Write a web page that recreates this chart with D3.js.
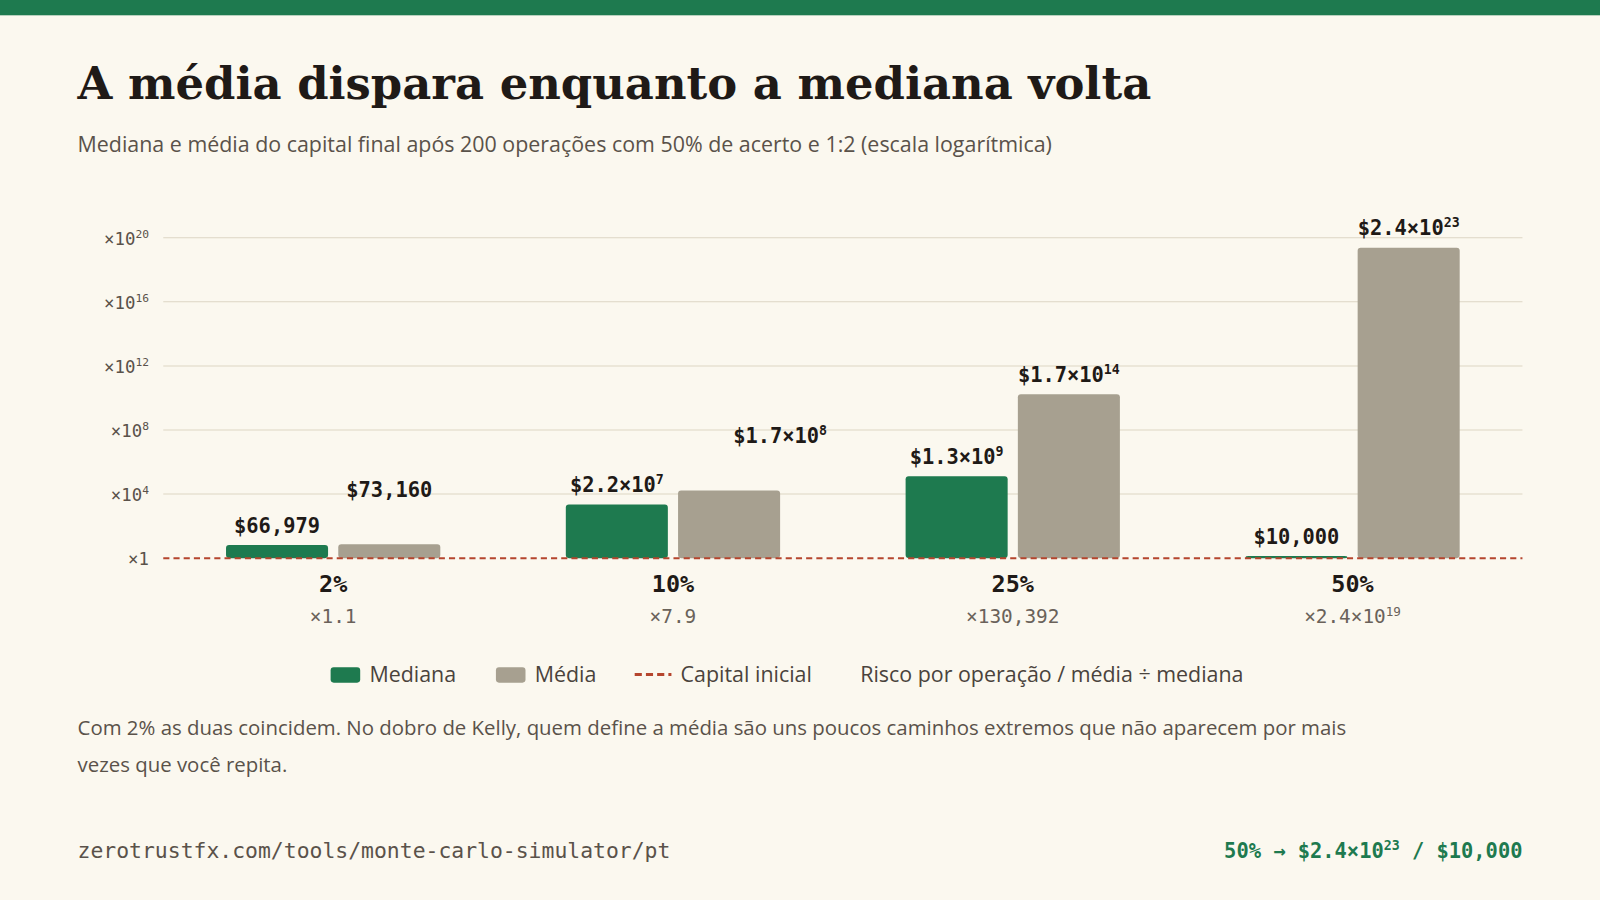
<!DOCTYPE html>
<html lang="en">
<head>
<meta charset="UTF-8">
<script src="https://d3js.org/d3.v7.min.js"></script>
<style>
  body { margin: 0; background: #fbf8ef; }
  svg { display: block; }
</style>
</head>
<body>
<svg width="1600" height="900" viewBox="0 0 1568 882"></svg>
<script>
  // data
  const risks = ["2%", "10%", "25%", "50%"];
  const medianValues = [66979, 2.2e7, 1.3e9, 10000];
  const meanValues = [73160, 1.7e8, 1.7e14, 2.4e23];
  const medianLabels = ["$66,979", "$2.2×10^7", "$1.3×10^9", "$10,000"];
  const meanLabels = ["$73,160", "$1.7×10^8", "$1.7×10^14", "$2.4×10^23"];
  const ratioLabels = ["×1.1", "×7.9", "×130,392", "×2.4×10^19"];
  const yTicks = [1, 1e4, 1e8, 1e12, 1e16, 1e20];
  const yTickLabels = ["×1", "×10^4", "×10^8", "×10^12", "×10^16", "×10^20"];
  const initialCapital = 10000;

  const green = "#1e7a4f", grey = "#a7a090", red = "#b5452e";
  const sans = "'Open Sans', 'Noto Sans', sans-serif";
  const mono = "'DejaVu Sans Mono', monospace";
  const svg = d3.select("svg");

  svg.append("rect").attr("width", 1568).attr("height", 882).attr("fill", "#fbf8ef");
  svg.append("rect").attr("width", 1568).attr("height", 15).attr("fill", green);

  svg.append("text").attr("x", 76).attr("y", 97)
    .attr("font-family", "'DejaVu Serif', serif").attr("font-weight", "bold")
    .attr("font-size", 44).attr("fill", "#1f1a17")
    .text("A média dispara enquanto a mediana volta");
  svg.append("text").attr("x", 76).attr("y", 149)
    .attr("font-family", sans).attr("font-size", 21).attr("fill", "#5a524a")
    .text("Mediana e média do capital final após 200 operações com 50% de acerto e 1:2 (escala logarítmica)");

  // text with superscript "a^b"
  function supText(sel, str, baseSize) {
    const parts = str.split("^");
    sel.text(parts[0]);
    if (parts[1]) {
      sel.append("tspan").attr("dy", -baseSize * 0.4).attr("font-size", baseSize * 0.65).text(parts[1]);
    }
    return sel;
  }

  const x = d3.scaleBand().domain(risks).range([160, 1492]).paddingInner(0).paddingOuter(0);
  const y = d3.scaleLog().domain([1, 1e20]).range([547, 233]);
  const barW = 100, gap = 10;

  const grid = svg.append("g");
  yTicks.forEach((t, i) => {
    if (i > 0) grid.append("line").attr("x1", 160).attr("x2", 1492)
      .attr("y1", y(t)).attr("y2", y(t)).attr("stroke", "#ddd6c4").attr("stroke-width", 1);
    supText(grid.append("text").attr("x", 146).attr("y", y(t) + 7).attr("text-anchor", "end")
      .attr("font-family", mono).attr("font-size", 17).attr("fill", "#5a524a"), yTickLabels[i], 17);
  });

  risks.forEach((r, i) => {
    const cx = x(r) + x.bandwidth() / 2;
    const mr = medianValues[i] / initialCapital, ar = meanValues[i] / initialCapital;
    const mTop = Math.min(y(mr), 545), aTop = Math.min(y(ar), 545);
    svg.append("rect").attr("x", cx - gap / 2 - barW).attr("y", mTop).attr("width", barW)
      .attr("height", 547 - mTop).attr("rx", 3).attr("fill", green);
    svg.append("rect").attr("x", cx + gap / 2).attr("y", aTop).attr("width", barW)
      .attr("height", 547 - aTop).attr("rx", 3).attr("fill", grey);
    supText(svg.append("text").attr("x", cx - gap / 2 - barW / 2).attr("y", mTop - 12)
      .attr("text-anchor", "middle").attr("font-family", mono).attr("font-weight", "bold")
      .attr("font-size", 20).attr("fill", "#1f1a17"), medianLabels[i], 20);
    const aLabelY = i === 0 ? 487 : i === 1 ? 434 : aTop - 12;
    const aLabelX = i === 1 ? cx + gap / 2 + barW / 2 + 50 : cx + gap / 2 + barW / 2;
    supText(svg.append("text").attr("x", aLabelX).attr("y", aLabelY)
      .attr("text-anchor", "middle").attr("font-family", mono).attr("font-weight", "bold")
      .attr("font-size", 20).attr("fill", "#1f1a17"), meanLabels[i], 20);
    svg.append("text").attr("x", cx).attr("y", 580).attr("text-anchor", "middle")
      .attr("font-family", mono).attr("font-weight", "bold").attr("font-size", 23)
      .attr("fill", "#1f1a17").text(r);
    supText(svg.append("text").attr("x", cx).attr("y", 611).attr("text-anchor", "middle")
      .attr("font-family", mono).attr("font-size", 19).attr("fill", "#6a625a"), ratioLabels[i], 19);
  });

  svg.append("line").attr("x1", 160).attr("x2", 1492).attr("y1", y(1)).attr("y2", y(1))
    .attr("stroke", red).attr("stroke-width", 2).attr("stroke-dasharray", "6 4");

  // legend
  const lg = svg.append("g").attr("font-family", sans).attr("font-size", 21).attr("fill", "#4a433c");
  lg.append("rect").attr("x", 324).attr("y", 654).attr("width", 29).attr("height", 15).attr("rx", 3).attr("fill", green);
  lg.append("text").attr("x", 362).attr("y", 668).text("Mediana");
  lg.append("rect").attr("x", 486).attr("y", 654).attr("width", 29).attr("height", 15).attr("rx", 3).attr("fill", grey);
  lg.append("text").attr("x", 524).attr("y", 668).text("Média");
  lg.append("line").attr("x1", 622).attr("x2", 658).attr("y1", 661).attr("y2", 661)
    .attr("stroke", red).attr("stroke-width", 3).attr("stroke-dasharray", "7 4");
  lg.append("text").attr("x", 667).attr("y", 668).text("Capital inicial");
  lg.append("text").attr("x", 843).attr("y", 668).text("Risco por operação / média ÷ mediana");

  const note = svg.append("g").attr("font-family", sans).attr("font-size", 20).attr("fill", "#5a524a");
  note.append("text").attr("x", 76).attr("y", 720)
    .text("Com 2% as duas coincidem. No dobro de Kelly, quem define a média são uns poucos caminhos extremos que não aparecem por mais");
  note.append("text").attr("x", 76).attr("y", 757).text("vezes que você repita.");

  svg.append("text").attr("x", 76).attr("y", 841).attr("font-family", mono).attr("font-size", 21)
    .attr("fill", "#5a524a").text("zerotrustfx.com/tools/monte-carlo-simulator/pt");
  supText(svg.append("text").attr("x", 1492).attr("y", 841).attr("text-anchor", "end")
    .attr("font-family", mono).attr("font-weight", "bold").attr("font-size", 20).attr("fill", green),
    "50% → $2.4×10^23", 20).append("tspan").attr("dy", 8).attr("font-size", 20).text(" / $10,000");
</script>
</body>
</html>
